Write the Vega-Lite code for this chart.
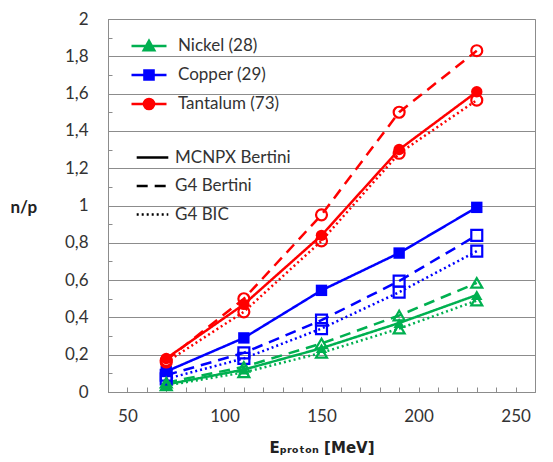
{
  "$schema": "https://vega.github.io/schema/vega-lite/v6.json",
  "width": 427,
  "height": 373,
  "autosize": {"type": "none"},
  "padding": {"left": 108, "top": 19, "right": 18, "bottom": 70},
  "background": "white",
  "resolve": {"legend": {"color": "independent", "shape": "independent"}},
  "config": {
    "locale": {"number": {"decimal": ",", "thousands": ".", "grouping": [3], "currency": ["", " €"]}},
    "font": "Lato, DejaVu Sans",
    "view": {"stroke": "#8c8c8c", "strokeWidth": 1},
    "axis": {
      "domainColor": "#8c8c8c",
      "tickColor": "#8c8c8c",
      "ticks": true,
      "labelColor": "#333333",
      "labelFontSize": 17,
      "labelOverlap": false,
      "titleFontSize": 17,
      "titleFontWeight": "bold",
      "titleColor": "#222222"
    },
    "legend": {"labelColor": "#333333", "labelFontSize": 17, "labelFont": "Lato, DejaVu Sans"}
  },
  "data": {
    "values": [
      {"material": "Tantalum (73)", "code": "MCNPX Bertini", "energy": 70, "np": 0.18},
      {"material": "Tantalum (73)", "code": "MCNPX Bertini", "energy": 110, "np": 0.47},
      {"material": "Tantalum (73)", "code": "MCNPX Bertini", "energy": 150, "np": 0.84},
      {"material": "Tantalum (73)", "code": "MCNPX Bertini", "energy": 190, "np": 1.3},
      {"material": "Tantalum (73)", "code": "MCNPX Bertini", "energy": 230, "np": 1.61},
      {"material": "Tantalum (73)", "code": "G4 Bertini", "energy": 70, "np": 0.17},
      {"material": "Tantalum (73)", "code": "G4 Bertini", "energy": 110, "np": 0.5},
      {"material": "Tantalum (73)", "code": "G4 Bertini", "energy": 150, "np": 0.95},
      {"material": "Tantalum (73)", "code": "G4 Bertini", "energy": 190, "np": 1.5},
      {"material": "Tantalum (73)", "code": "G4 Bertini", "energy": 230, "np": 1.83},
      {"material": "Tantalum (73)", "code": "G4 BIC", "energy": 70, "np": 0.16},
      {"material": "Tantalum (73)", "code": "G4 BIC", "energy": 110, "np": 0.43},
      {"material": "Tantalum (73)", "code": "G4 BIC", "energy": 150, "np": 0.81},
      {"material": "Tantalum (73)", "code": "G4 BIC", "energy": 190, "np": 1.28},
      {"material": "Tantalum (73)", "code": "G4 BIC", "energy": 230, "np": 1.565},
      {"material": "Copper (29)", "code": "MCNPX Bertini", "energy": 70, "np": 0.11},
      {"material": "Copper (29)", "code": "MCNPX Bertini", "energy": 110, "np": 0.29},
      {"material": "Copper (29)", "code": "MCNPX Bertini", "energy": 150, "np": 0.545},
      {"material": "Copper (29)", "code": "MCNPX Bertini", "energy": 190, "np": 0.745},
      {"material": "Copper (29)", "code": "MCNPX Bertini", "energy": 230, "np": 0.99},
      {"material": "Copper (29)", "code": "G4 Bertini", "energy": 70, "np": 0.09},
      {"material": "Copper (29)", "code": "G4 Bertini", "energy": 110, "np": 0.21},
      {"material": "Copper (29)", "code": "G4 Bertini", "energy": 150, "np": 0.385},
      {"material": "Copper (29)", "code": "G4 Bertini", "energy": 190, "np": 0.595},
      {"material": "Copper (29)", "code": "G4 Bertini", "energy": 230, "np": 0.84},
      {"material": "Copper (29)", "code": "G4 BIC", "energy": 70, "np": 0.07},
      {"material": "Copper (29)", "code": "G4 BIC", "energy": 110, "np": 0.18},
      {"material": "Copper (29)", "code": "G4 BIC", "energy": 150, "np": 0.34},
      {"material": "Copper (29)", "code": "G4 BIC", "energy": 190, "np": 0.535},
      {"material": "Copper (29)", "code": "G4 BIC", "energy": 230, "np": 0.755},
      {"material": "Nickel (28)", "code": "MCNPX Bertini", "energy": 70, "np": 0.04},
      {"material": "Nickel (28)", "code": "MCNPX Bertini", "energy": 110, "np": 0.12},
      {"material": "Nickel (28)", "code": "MCNPX Bertini", "energy": 150, "np": 0.235},
      {"material": "Nickel (28)", "code": "MCNPX Bertini", "energy": 190, "np": 0.37},
      {"material": "Nickel (28)", "code": "MCNPX Bertini", "energy": 230, "np": 0.52},
      {"material": "Nickel (28)", "code": "G4 Bertini", "energy": 70, "np": 0.05},
      {"material": "Nickel (28)", "code": "G4 Bertini", "energy": 110, "np": 0.135},
      {"material": "Nickel (28)", "code": "G4 Bertini", "energy": 150, "np": 0.26},
      {"material": "Nickel (28)", "code": "G4 Bertini", "energy": 190, "np": 0.41},
      {"material": "Nickel (28)", "code": "G4 Bertini", "energy": 230, "np": 0.585},
      {"material": "Nickel (28)", "code": "G4 BIC", "energy": 70, "np": 0.035},
      {"material": "Nickel (28)", "code": "G4 BIC", "energy": 110, "np": 0.105},
      {"material": "Nickel (28)", "code": "G4 BIC", "energy": 150, "np": 0.21},
      {"material": "Nickel (28)", "code": "G4 BIC", "energy": 190, "np": 0.34},
      {"material": "Nickel (28)", "code": "G4 BIC", "energy": 230, "np": 0.49}
    ]
  },
  "layer": [
    {
      "mark": {"type": "line", "strokeWidth": 2.5},
      "encoding": {
        "x": {
          "field": "energy", "type": "quantitative",
          "scale": {"domain": [50, 250]},
          "axis": {
            "values": [50, 60, 70, 80, 90, 100, 110, 120, 130, 140, 150, 160, 170, 180, 190, 200, 210, 220, 230, 240, 250],
            "tickCount": 100,
            "labelExpr": "datum.value % 50 === 0 ? datum.label : ''",
            "grid": false,
            "tickSize": -5,
            "labelPadding": 21,
            "labelFlush": false,
            "title": "Eₚᵣₒₜₒₙ [MeV]",
            "titleFont": "DejaVu Sans",
            "titleFontSize": 15,
            "titleY": 60,
            "titleBaseline": "alphabetic"
          }
        },
        "y": {
          "field": "np", "type": "quantitative",
          "scale": {"domain": [0, 2]},
          "axis": {
            "values": [0, 0.1, 0.2, 0.3, 0.4, 0.5, 0.6, 0.7, 0.8, 0.9, 1, 1.1, 1.2, 1.3, 1.4, 1.5, 1.6, 1.7, 1.8, 1.9, 2],
            "tickCount": 100,
            "format": ".1~f",
            "labelExpr": "round(datum.value * 10) % 2 === 0 ? datum.label : ''",
            "grid": true,
            "gridColor": "#8c8c8c",
            "gridOpacity": {"condition": {"test": "round(datum.value * 10) % 2 === 0", "value": 1}, "value": 0},
            "tickSize": -4,
            "labelPadding": 24,
            "labelFlush": false,
            "title": "n/p",
            "titleAngle": 0,
            "titleAlign": "left",
            "titleBaseline": "middle",
            "titleX": -98,
            "titleY": 188
          }
        },
        "color": {
          "field": "material", "type": "nominal",
          "scale": {"domain": ["Nickel (28)", "Copper (29)", "Tantalum (73)"], "range": ["#00b050", "#0000ff", "#ff0000"]},
          "legend": {
            "orient": "none", "legendX": 22, "legendY": 8, "title": null,
            "symbolSize": 1225, "symbolStrokeWidth": 2.5, "rowPadding": 0, "labelOffset": 10,
            "encode": {
              "symbols": {
                "update": {
                  "shape": {"signal": "datum.value === 'Nickel (28)' ? 'M-1,0H1M0,-0.3L0.3,0.24L-0.3,0.24Z' : datum.value === 'Copper (29)' ? 'M-1,0H1M-0.26,-0.26H0.26V0.26H-0.26Z' : 'M-1,0H1M0.29,0A0.29,0.29 0 1,1 -0.29,0A0.29,0.29 0 1,1 0.29,0Z'"},
                  "fill": {"scale": "color", "field": "value"},
                  "stroke": {"scale": "color", "field": "value"},
                  "opacity": {"value": 1},
                  "fillOpacity": {"value": 1}
                }
              }
            }
          }
        },
        "strokeDash": {
          "field": "code", "type": "nominal",
          "scale": {"domain": ["MCNPX Bertini", "G4 Bertini", "G4 BIC"], "range": [[1, 0], [11, 7], [2, 3]]},
          "legend": {
            "orient": "none", "legendX": 27, "legendY": 121, "title": null,
            "symbolType": "stroke", "symbolSize": 1000, "symbolStrokeColor": "black", "symbolStrokeWidth": 2.5,
            "rowPadding": 2.5, "labelOffset": 5
          }
        }
      }
    },
    {
      "transform": [{"filter": "datum.code === 'MCNPX Bertini'"}],
      "mark": {"type": "point", "filled": true, "size": 130, "opacity": 1},
      "encoding": {
        "x": {"field": "energy", "type": "quantitative"},
        "y": {"field": "np", "type": "quantitative"},
        "color": {"field": "material", "type": "nominal", "legend": null},
        "shape": {
          "field": "material", "type": "nominal",
          "scale": {"domain": ["Nickel (28)", "Copper (29)", "Tantalum (73)"], "range": ["triangle-up", "square", "circle"]},
          "legend": null
        }
      }
    },
    {
      "transform": [{"filter": "datum.code !== 'MCNPX Bertini'"}],
      "mark": {"type": "point", "filled": false, "size": 120, "strokeWidth": 2.2, "opacity": 1},
      "encoding": {
        "x": {"field": "energy", "type": "quantitative"},
        "y": {"field": "np", "type": "quantitative"},
        "color": {"field": "material", "type": "nominal", "legend": null},
        "shape": {"field": "material", "type": "nominal", "legend": null}
      }
    }
  ]
}
